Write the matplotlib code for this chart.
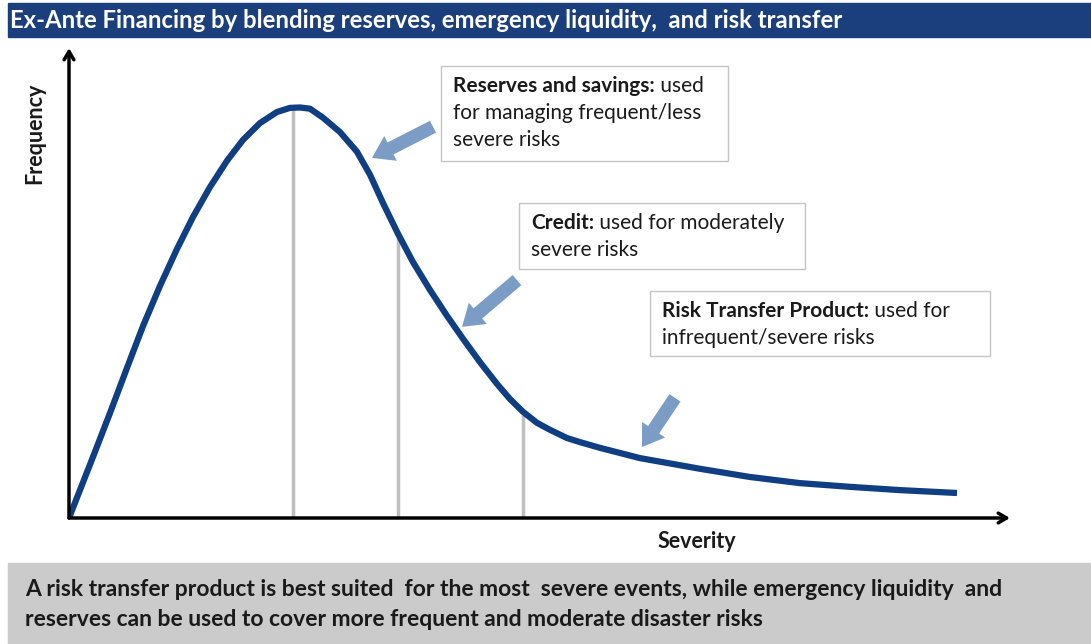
import matplotlib
matplotlib.use("Agg")
import matplotlib.pyplot as plt
from matplotlib.patches import Rectangle

plt.rcParams['font.family'] = ['Lato', 'DejaVu Sans']

# curve (severity, frequency; peak = 100)
severity = [0, 2.4, 4.1, 5.8, 7.4, 9.1, 10.8, 12.4, 14.1, 15.8, 17.4, 19.1, 20.8,
            22.1, 23.1, 24.1, 25.4, 27.1, 28.8, 30.1, 31.4, 32.9, 34.4, 36.1, 37.8,
            39.4, 41.1, 42.8, 44.1, 45.4, 46.8, 48.1, 49.8, 51.1, 53.1, 57.1,
            63.1, 68.1, 73.1, 78.1, 83.1, 88.8]
frequency = [0, 14.9, 25.6, 36.6, 46.8, 56.6, 65.6, 73.4, 80.7, 87.1, 92.2, 96.3, 99.0,
             100, 100.1, 99.8, 97.6, 94.1, 89.3, 83.7, 76.8, 69.3, 62.4, 55.6, 49.3,
             43.7, 38.0, 32.7, 29.0, 25.9, 23.2, 21.5, 19.5, 18.5, 17.1, 14.6,
             12.0, 10.0, 8.5, 7.6, 6.8, 6.1]

# tier boundaries (grey lines)
split_sev = [22.4, 32.9, 45.4]
split_top = [100, 68.5, 25.0]

# call-out arrows: (tail, tip)
arrows = [((36.4, 95.4), (30.3, 87.8)),
          ((44.8, 58.0), (39.3, 46.6)),
          ((60.6, 29.3), (57.3, 17.3))]

labels_bold = ["Reserves and savings:", "Credit:", "Risk Transfer Product:"]
labels_rest = [" used", " used for moderately", " used for"]
labels_more = [["for managing frequent/less", "severe risks"], ["severe risks"],
               ["infrequent/severe risks"]]

title = "Ex-Ante Financing by blending reserves, emergency liquidity,  and risk transfer"
footer = ["A risk transfer product is best suited  for the most  severe events, while emergency liquidity  and",
          "reserves can be used to cover more frequent and moderate disaster risks"]

W, H = 1091, 644
fig = plt.figure(figsize=(W / 100, H / 100), dpi=100)

# layout overlay in pixel units
lay = fig.add_axes([0, 0, 1, 1])
lay.set_xlim(0, W)
lay.set_ylim(H, 0)
lay.axis('off')

navy = '#1B3E7C'
curve_col = '#0F3F82'
arrow_col = '#7B9CC4'
ink = '#1A1A1A'

lay.add_patch(Rectangle((8, 3), W - 8, 34, color=navy))
lay.text(10, 20, title, color='white', fontsize=17.2, fontweight='bold', va='center')

lay.add_patch(Rectangle((8, 563), W - 8, 81, color='#CBCBCB'))
for i, line in enumerate(footer):
    lay.text(25, 589 + 31 * i, line, fontsize=16.5, fontweight='bold', va='center',
             color=ink)

boxes = [(441, 66, 287, 95), (519, 203, 286, 66), (650, 291, 340, 65)]
for (bx, by, bw, bh), b, r, m in zip(boxes, labels_bold, labels_rest, labels_more):
    lay.add_patch(Rectangle((bx, by), bw, bh, fill=False, edgecolor='#C4C4C4', lw=1))
    t = lay.text(bx + 12, by + 20, b, fontsize=15, fontweight='bold', va='center',
                 color=ink)
    lay.annotate(r, xy=(1, 0), xycoords=t, va='bottom', fontsize=15, color=ink)
    for i, line in enumerate(m):
        lay.text(bx + 12, by + 47 + 27 * i, line, fontsize=15, va='center', color=ink)

# chart axes
ax = fig.add_axes([69 / W, 126 / H, 941 / W, 470 / H])
ax.set_xlim(0, 94.1)
ax.set_ylim(0, 114.6)
ax.axis('off')

ax.vlines(split_sev, 0, split_top, color='#BFBFBF', lw=2.5, zorder=1)
ax.plot(severity, frequency, color=curve_col, lw=4.5, solid_joinstyle='round',
        solid_capstyle='butt', zorder=3)

for tail, tip in arrows:
    ax.annotate('', xy=tip, xytext=tail,
                arrowprops=dict(arrowstyle='simple,head_width=1.0,head_length=0.75,tail_width=0.48',
                                mutation_scale=20, color=arrow_col, lw=0,
                                shrinkA=0, shrinkB=0), zorder=4)

ax.annotate('', xy=(1, 0), xytext=(0, 0), xycoords='axes fraction',
            arrowprops=dict(arrowstyle='->,head_width=0.35,head_length=0.6', lw=2.5,
                            color='black', shrinkA=0, shrinkB=0), zorder=5)
ax.annotate('', xy=(0, 1), xytext=(0, 0), xycoords='axes fraction',
            arrowprops=dict(arrowstyle='->,head_width=0.35,head_length=0.6', lw=2.5,
                            color='black', shrinkA=0, shrinkB=0), zorder=5)

lay.text(697, 542, "Severity", fontsize=15.5, fontweight='bold', ha='center', va='center',
         color=ink)
lay.text(35, 133, "Frequency", fontsize=15.5, fontweight='bold', ha='center', va='center',
         rotation=90, color=ink)

fig.savefig('out.png', dpi=100)
